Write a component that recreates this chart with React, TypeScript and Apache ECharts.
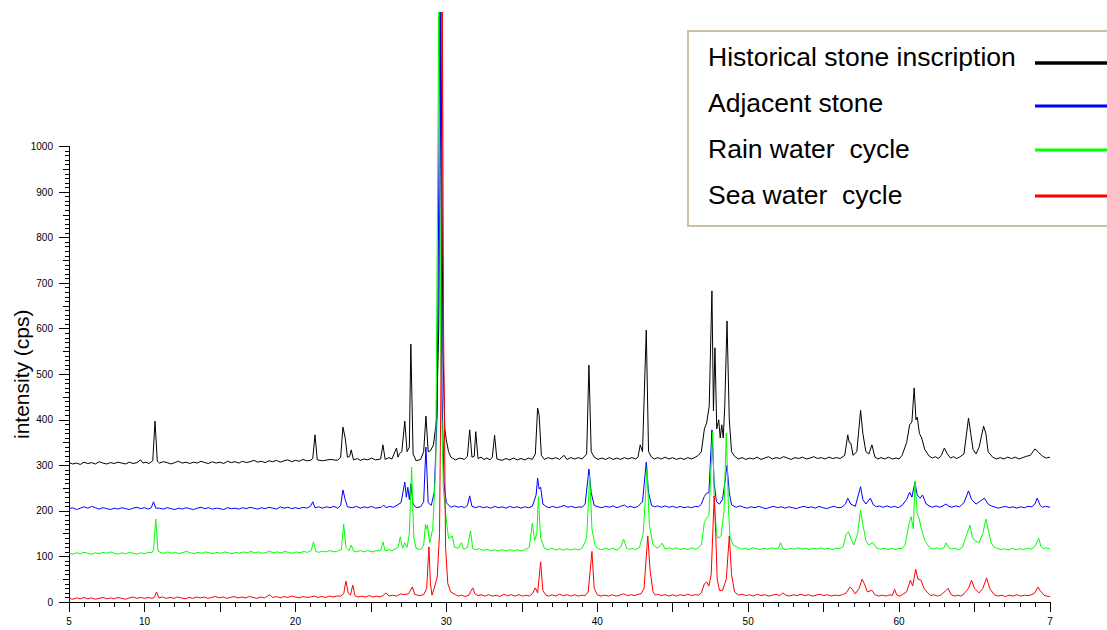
import React, { useEffect, useRef } from "react";
import * as echarts from "echarts";

// 2-theta (deg) vs intensity (cps) (traces are offset as drawn)
const historical: [number, number][] = [
  [5.0,306],[5.25,303],[5.5,305],[5.75,302],[6.0,307],[6.25,304],[6.5,306],[6.75,303],[7.0,308],[7.25,305],[7.5,303],[7.75,306],[8.0,304],[8.25,307],[8.5,305],[8.75,303],[9.0,307],[9.25,304],[9.5,306],[9.75,312],[9.9,305],[10.1,307],[10.3,304],[10.55,310],[10.7,397],[10.85,309],
  [11.0,305],[11.25,308],[11.5,306],[11.75,303],[12.0,306],[12.25,309],[12.5,305],[12.75,307],[13.0,304],[13.25,307],[13.5,305],[13.75,309],[14.0,306],[14.25,304],[14.5,308],[14.75,305],[15.0,307],[15.25,304],[15.5,309],[15.75,306],[16.0,308],[16.25,305],[16.5,309],[16.75,306],[17.0,308],[17.25,311],[17.5,307],[17.75,309],[18.0,306],[18.25,310],[18.5,308],[18.75,311],[19.0,307],[19.25,310],[19.5,312],[19.75,308],[20.0,311],[20.25,309],[20.5,313],[20.75,310],[21.0,311],
  [21.15,315],[21.3,367],[21.45,312],[21.8,310],[22.3,313],[22.8,311],[23.0,318],[23.15,384],[23.3,360],[23.45,318],[23.6,320],[23.7,334],[23.85,312],[24.1,315],[24.3,311],[24.55,314],[24.8,312],[25.05,316],[25.3,312],[25.65,314],[25.8,345],[25.95,313],[26.2,317],[26.4,314],[26.7,338],[26.8,318],[26.9,326],[27.05,330],[27.25,397],[27.4,330],[27.55,340],[27.65,566],[27.8,325],[28.0,310],[28.3,313],[28.5,330],[28.65,408],[28.8,330],[28.95,332],[29.15,345],[29.35,400],[29.5,600],[29.64,1295],[29.78,550],[29.9,380],[30.0,356],[30.15,330],[30.3,318],[30.6,312],[30.9,316],[31.2,313],[31.4,320],[31.55,378],[31.7,318],[31.85,320],[31.95,374],[32.1,315],[32.3,318],[32.5,313],[32.7,316],[32.9,312],[33.05,318],[33.2,366],[33.35,314],[33.7,311],[33.95,315],[34.2,312],[34.45,316],[34.7,312],[34.95,315],[35.2,312],[35.45,316],[35.7,313],[35.9,325],[36.05,426],[36.15,410],[36.3,322],[36.5,313],[36.75,317],[37.0,314],[37.25,317],[37.5,313],[37.8,322],[38.0,313],[38.25,317],[38.5,314],[38.75,317],[39.0,314],[39.3,325],[39.45,520],[39.6,330],[39.8,318],[40.05,313],[40.3,316],[40.55,313],[40.8,317],[41.05,313],[41.3,316],[41.55,313],[41.8,317],[42.05,314],[42.3,317],[42.55,314],[42.7,318],[42.85,345],[43.0,330],[43.25,597],[43.4,330],[43.6,318],[43.8,314],[44.0,317],[44.25,314],[44.5,318],[44.75,314],[45.0,317],[45.25,313],[45.5,316],[45.75,313],[46.0,317],[46.25,314],[46.5,318],[46.7,322],[46.9,330],[47.1,380],[47.25,393],[47.42,430],[47.6,683],[47.7,420],[47.8,558],[47.92,380],[48.05,400],[48.15,360],[48.25,389],[48.35,360],[48.45,430],[48.6,617],[48.75,400],[48.9,330],
  [49.1,320],[49.35,314],[49.6,317],[49.85,313],[50.1,316],[50.35,314],[50.6,318],[50.85,313],[51.1,316],[51.35,319],[51.6,314],[51.85,317],[52.1,315],[52.35,319],[52.6,316],[52.85,313],[53.1,317],[53.35,315],[53.6,318],[53.85,314],[54.1,316],[54.35,319],[54.6,315],[54.85,317],[55.1,314],[55.35,318],[55.6,315],[55.85,317],[56.1,315],[56.4,322],
  [56.6,367],[56.7,350],[56.8,349],[56.95,322],[57.2,330],[57.45,421],[57.6,370],[57.8,330],[58.0,325],[58.2,345],[58.4,318],[58.6,314],[58.8,317],[59.05,314],[59.3,318],[59.55,314],[59.8,316],[60.0,314],[60.2,322],[60.5,350],[60.7,389],[60.85,395],[61.0,470],[61.12,400],[61.2,406],[61.35,370],[61.5,360],[61.7,335],[62.0,320],[62.2,316],[62.4,319],[62.6,315],[62.8,322],[63.0,338],[63.2,325],[63.4,316],[63.6,319],[63.8,315],[64.0,318],[64.3,325],[64.6,404],[64.75,370],[64.9,335],[65.1,325],[65.3,340],[65.6,386],[65.75,370],[65.9,330],
  [66.2,318],[66.45,314],[66.7,317],[66.95,314],[67.2,318],[67.45,315],[67.7,318],[67.95,314],[68.2,317],[68.45,320],[68.7,322],[69.0,336],[69.2,330],[69.5,320],[69.75,316],[70.0,318]
];

const adjacent: [number, number][] = [
  [5.0,205],[5.25,207],[5.5,203],[5.75,206],[6.0,209],[6.25,206],[6.5,210],[6.75,207],[7.0,204],[7.25,207],[7.5,205],[7.75,203],[8.0,206],[8.25,204],[8.5,207],[8.75,205],[9.0,203],[9.25,206],[9.5,208],[9.75,205],[10.0,207],[10.25,204],[10.45,207],[10.6,220],[10.75,206],
  [11.0,206],[11.25,204],[11.5,207],[11.75,205],[12.0,203],[12.25,206],[12.5,204],[12.75,207],[13.0,205],[13.25,203],[13.5,206],[13.75,208],[14.0,205],[14.25,207],[14.5,204],[14.75,206],[15.0,205],[15.25,203],[15.5,207],[15.75,205],[16.0,206],[16.25,204],[16.5,207],[16.75,205],[17.0,208],[17.25,206],[17.5,204],[17.75,207],[18.0,205],[18.25,208],[18.5,206],[18.75,204],[19.0,209],[19.25,206],[19.5,208],[19.75,205],[20.0,207],[20.25,205],[20.5,208],[20.75,206],[21.0,210],
  [21.15,220],[21.3,207],[21.55,209],[21.8,206],[22.05,209],[22.3,207],[22.55,210],[22.8,206],[23.0,212],[23.15,246],[23.3,225],[23.45,209],[23.8,207],[24.05,210],[24.3,206],[24.55,209],[24.8,207],[25.05,210],[25.3,206],[25.7,208],[25.85,213],[26.0,207],[26.25,210],[26.5,208],[26.8,214],[27.0,218],[27.25,263],[27.35,230],[27.45,252],[27.55,225],[27.65,259],[27.8,215],[28.0,207],[28.3,209],[28.5,220],[28.65,340],[28.8,218],[29.0,212],[29.2,240],[29.4,420],[29.58,1295],[29.72,450],[29.85,260],[30.0,218],[30.3,208],[30.55,211],[30.8,208],[31.0,210],[31.2,207],[31.4,212],[31.55,233],[31.7,210],[31.95,207],[32.2,210],[32.45,207],[32.7,209],[32.95,206],[33.2,210],[33.45,207],[33.7,209],[33.95,206],[34.2,210],[34.45,207],[34.7,209],[34.95,206],[35.2,209],[35.45,207],[35.7,210],[35.95,235],[36.05,272],[36.15,248],[36.25,252],[36.4,215],[36.6,210],[36.8,207],[37.05,210],[37.3,207],[37.55,209],[37.8,212],[38.05,208],[38.3,210],[38.55,207],[38.8,209],[39.0,208],[39.2,215],[39.45,292],[39.6,240],[39.8,212],[40.05,209],[40.3,207],[40.55,210],[40.8,208],[41.05,211],[41.3,207],[41.55,210],[41.8,213],[42.0,208],[42.2,210],[42.45,207],[42.7,210],[43.0,220],[43.25,307],[43.4,240],[43.6,212],[43.8,209],[44.0,211],[44.25,208],[44.5,211],[44.75,208],[45.0,210],[45.25,207],[45.5,210],[45.75,207],[46.0,209],[46.25,207],[46.5,210],[46.7,209],[46.9,215],[47.1,232],[47.25,239],[47.4,240],[47.6,378],[47.75,260],[47.9,220],[48.1,215],[48.3,225],[48.45,260],[48.6,300],[48.75,240],[48.9,213],
  [49.2,208],[49.45,211],[49.7,208],[49.95,206],[50.2,209],[50.45,207],[50.7,210],[50.95,207],[51.2,205],[51.45,208],[51.7,210],[51.95,207],[52.2,209],[52.45,206],[52.7,209],[52.95,207],[53.2,205],[53.45,208],[53.7,210],[53.95,207],[54.2,209],[54.45,206],[54.7,210],[54.95,207],[55.2,205],[55.45,208],[55.7,210],[55.95,207],[56.2,208],
  [56.45,215],[56.6,228],[56.8,215],[57.1,210],[57.45,253],[57.6,225],[57.8,215],[58.1,228],[58.3,213],[58.5,209],[58.7,211],[58.95,208],[59.2,211],[59.45,208],[59.7,210],[59.95,207],[60.2,212],[60.5,225],[60.7,241],[60.85,230],[61.05,263],[61.2,235],[61.4,228],[61.55,235],[61.8,215],[62.0,211],[62.2,208],[62.45,211],[62.7,208],[62.9,211],[63.1,215],[63.3,210],[63.5,208],[63.75,211],[64.0,209],[64.3,218],[64.6,244],[64.8,225],[65.1,215],[65.4,222],[65.65,228],[65.9,215],[66.1,211],
  [66.3,209],[66.55,206],[66.8,208],[67.05,210],[67.3,207],[67.55,209],[67.8,206],[68.05,209],[68.3,207],[68.55,210],[68.8,209],[69.0,215],[69.15,228],[69.35,212],[69.5,208],[69.7,210],[70.0,208]
];

const rainCycle: [number, number][] = [
  [5.0,107],[5.25,105],[5.5,108],[5.75,106],[6.0,109],[6.25,107],[6.5,105],[6.75,108],[7.0,106],[7.25,109],[7.5,107],[7.75,110],[8.0,107],[8.25,105],[8.5,108],[8.75,106],[9.0,109],[9.25,107],[9.5,105],[9.75,108],[10.0,106],[10.25,109],[10.5,108],[10.6,115],[10.75,182],[10.9,112],
  [11.1,108],[11.3,107],[11.55,110],[11.8,107],[12.05,109],[12.3,106],[12.55,109],[12.8,111],[13.05,108],[13.3,106],[13.55,109],[13.8,107],[14.05,110],[14.3,108],[14.55,106],[14.8,109],[15.05,107],[15.3,110],[15.55,108],[15.8,106],[16.05,109],[16.3,107],[16.55,110],[16.8,108],[17.05,111],[17.3,108],[17.55,110],[17.8,107],[18.05,109],[18.3,111],[18.55,108],[18.8,110],[19.05,108],[19.3,111],[19.55,109],[19.8,107],[20.05,110],[20.3,108],[20.55,111],[20.8,109],
  [21.05,113],[21.2,132],[21.35,111],[21.55,109],[21.8,112],[22.05,110],[22.3,113],[22.55,110],[22.8,112],[23.05,115],[23.2,171],[23.35,120],[23.55,113],[23.7,125],[23.85,112],[24.05,110],[24.3,113],[24.55,110],[24.8,113],[25.05,110],[25.3,112],[25.65,113],[25.8,132],[25.95,112],[26.2,115],[26.4,112],[26.6,116],[26.8,120],[26.95,143],[27.1,118],[27.25,130],[27.4,120],[27.55,150],[27.7,296],[27.85,140],[28.0,118],[28.3,115],[28.5,125],[28.62,171],[28.68,160],[28.75,169],[28.9,130],[29.1,160],[29.3,300],[29.5,1295],[29.64,520],[29.8,250],[30.0,180],[30.15,140],[30.4,145],[30.55,120],[30.8,118],[31.0,130],[31.15,116],[31.4,120],[31.6,156],[31.75,118],[31.95,115],[32.2,117],[32.45,113],[32.7,116],[32.95,112],[33.2,115],[33.45,112],[33.7,115],[33.95,112],[34.2,115],[34.45,112],[34.7,115],[34.95,112],[35.2,115],[35.5,120],[35.7,173],[35.85,135],[36.0,150],[36.1,231],[36.25,140],[36.5,118],[36.75,115],[37.0,118],[37.25,114],[37.5,117],[37.75,114],[38.0,117],[38.25,114],[38.5,117],[38.75,114],[39.0,118],[39.3,140],[39.5,279],[39.65,160],[39.85,125],[40.05,117],[40.3,115],[40.55,118],[40.8,115],[41.05,118],[41.3,114],[41.55,120],[41.75,138],[41.95,118],[42.15,115],[42.3,118],[42.55,115],[42.8,120],[43.05,150],[43.3,294],[43.45,170],[43.7,125],[44.0,118],[44.3,129],[44.5,116],[44.75,119],[45.0,116],[45.25,119],[45.5,115],[45.75,118],[46.0,115],[46.25,119],[46.5,116],[46.7,119],[46.9,125],[47.1,175],[47.25,184],[47.4,190],[47.55,300],[47.65,373],[47.75,230],[47.9,150],[48.0,140],[48.2,145],[48.4,200],[48.55,371],[48.7,200],[48.8,143],[49.0,125],
  [49.3,120],[49.55,116],[49.8,118],[50.05,115],[50.3,119],[50.55,117],[50.8,115],[51.05,118],[51.3,116],[51.55,119],[51.8,117],[52.0,118],[52.15,130],[52.3,117],[52.55,115],[52.8,118],[53.05,116],[53.3,119],[53.55,116],[53.8,118],[54.05,115],[54.3,118],[54.55,116],[54.8,119],[55.05,116],[55.3,118],[55.55,115],[55.8,118],[56.05,117],[56.3,122],
  [56.5,150],[56.65,154],[56.8,140],[57.0,125],[57.25,150],[57.45,202],[57.6,170],[57.8,135],[58.0,125],[58.25,131],[58.5,119],[58.75,116],[59.0,118],[59.25,115],[59.5,118],[59.75,115],[60.0,118],[60.2,117],[60.4,125],[60.65,170],[60.8,187],[60.95,160],[61.05,266],[61.2,195],[61.35,180],[61.5,158],[61.7,135],[62.0,120],[62.25,116],[62.5,119],[62.75,116],[63.0,120],[63.1,130],[63.3,119],[63.5,116],[63.7,118],[63.95,115],[64.2,120],[64.5,150],[64.7,169],[64.85,143],[65.0,135],[65.3,130],[65.55,150],[65.75,182],[65.9,160],[66.1,130],
  [66.3,120],[66.5,118],[66.75,115],[67.0,117],[67.25,114],[67.5,118],[67.75,115],[68.0,117],[68.25,115],[68.5,118],[68.75,116],[69.0,122],[69.25,140],[69.4,122],[69.55,117],[69.7,119],[70.0,117]
];

const seaCycle: [number, number][] = [
  [5.0,8],[5.25,6],[5.5,9],[5.75,7],[6.0,10],[6.25,7],[6.5,9],[6.75,6],[7.0,8],[7.25,10],[7.5,7],[7.75,9],[8.0,7],[8.25,10],[8.5,8],[8.75,6],[9.0,9],[9.25,11],[9.5,8],[9.75,10],[10.0,8],[10.25,10],[10.5,8],[10.65,10],[10.8,22],[10.95,9],
  [11.2,11],[11.45,8],[11.7,10],[11.95,8],[12.2,11],[12.45,9],[12.7,7],[12.95,10],[13.2,8],[13.45,11],[13.7,9],[13.95,11],[14.2,8],[14.45,10],[14.7,12],[14.95,9],[15.2,11],[15.45,8],[15.7,10],[15.95,12],[16.2,9],[16.45,11],[16.7,9],[16.95,12],[17.2,10],[17.45,8],[17.7,11],[17.95,9],[18.1,12],[18.3,16],[18.5,10],[18.75,12],[19.0,9],[19.25,12],[19.5,10],[19.75,13],[20.0,11],[20.25,9],[20.5,12],[20.75,10],[21.0,11],
  [21.25,13],[21.5,10],[21.75,12],[22.0,10],[22.25,13],[22.5,11],[22.75,13],[23.0,13],[23.2,18],[23.35,46],[23.5,20],[23.65,15],[23.8,37],[23.95,14],[24.15,11],[24.4,13],[24.65,11],[24.9,14],[25.15,11],[25.4,13],[25.6,11],[25.8,14],[26.0,20],[26.2,13],[26.45,15],[26.7,13],[27.0,18],[27.2,16],[27.5,18],[27.75,33],[27.9,17],[28.2,14],[28.5,16],[28.7,30],[28.85,121],[28.95,40],[29.05,15],[29.2,30],[29.4,55],[29.55,150],[29.68,600],[29.74,1295],[29.82,600],[29.95,120],[30.1,40],[30.3,22],[30.6,16],[30.8,13],[31.0,15],[31.25,12],[31.5,15],[31.6,22],[31.75,31],[31.9,18],[32.1,14],[32.3,16],[32.55,13],[32.8,16],[33.05,13],[33.3,15],[33.55,12],[33.8,17],[34.05,14],[34.3,16],[34.55,13],[34.8,16],[35.05,13],[35.3,15],[35.5,13],[35.7,18],[35.9,31],[36.05,20],[36.25,88],[36.4,25],[36.6,15],[36.8,13],[37.0,16],[37.25,13],[37.5,17],[37.75,14],[38.0,16],[38.25,13],[38.5,16],[38.75,13],[39.0,15],[39.2,14],[39.4,22],[39.65,111],[39.8,30],[40.0,16],[40.25,13],[40.5,15],[40.75,13],[41.0,16],[41.25,13],[41.5,15],[41.75,18],[42.0,14],[42.25,16],[42.5,14],[42.7,17],[42.9,18],[43.1,30],[43.35,145],[43.5,70],[43.7,22],[43.85,15],[44.0,17],[44.25,14],[44.5,16],[44.75,13],[45.0,16],[45.25,13],[45.5,16],[45.75,14],[46.0,17],[46.25,14],[46.5,16],[46.7,15],[46.9,20],[47.1,40],[47.25,44],[47.4,35],[47.55,60],[47.75,233],[47.85,150],[47.95,50],[48.1,25],[48.3,25],[48.55,50],[48.75,145],[48.9,60],
  [49.1,22],[49.35,15],[49.6,17],[49.85,14],[50.1,16],[50.35,13],[50.6,17],[50.85,14],[51.1,16],[51.35,13],[51.6,15],[51.85,17],[52.1,14],[52.3,20],[52.5,15],[52.75,13],[53.0,16],[53.25,14],[53.5,17],[53.75,14],[54.0,16],[54.25,13],[54.5,15],[54.75,17],[55.0,14],[55.25,16],[55.5,13],[55.75,15],[56.0,14],[56.25,16],[56.5,20],
  [56.75,33],[56.9,28],[57.1,18],[57.35,30],[57.55,50],[57.7,40],[57.9,22],[58.2,26],[58.4,16],[58.65,13],[58.9,15],[59.15,13],[59.4,16],[59.55,14],[59.7,28],[59.85,15],[60.05,13],[60.2,16],[60.5,22],[60.75,48],[60.9,35],[61.1,72],[61.25,50],[61.45,48],[61.65,30],[61.9,20],[62.1,14],[62.3,16],[62.55,13],[62.8,16],[63.1,25],[63.25,30],[63.45,16],[63.7,13],[63.9,15],[64.1,13],[64.3,18],[64.6,30],[64.8,48],[65.0,30],[65.3,20],[65.55,30],[65.8,53],[66.0,30],
  [66.3,16],[66.55,13],[66.8,15],[67.05,12],[67.3,15],[67.55,13],[67.8,16],[68.05,13],[68.3,15],[68.55,14],[68.8,16],[69.0,20],[69.2,33],[69.35,25],[69.6,15],[69.8,13],[70.0,12]
];

const seriesNames = [
  "Historical stone inscription",
  "Adjacent stone",
  "Rain water  cycle",
  "Sea water  cycle",
];
const seriesColors = ["#000000", "#0000ff", "#00ff00", "#ff0000"];
const seriesData = [historical, adjacent, rainCycle, seaCycle];

const xLabelValues = [5, 10, 20, 30, 40, 50, 60, 70];
const xLabelTexts = ["5", "10", "20", "30", "40", "50", "60", "7"];
const yAxisName = "intensity (cps)";

const FONT = "'Liberation Sans', Arial, Helvetica, sans-serif";

export default function App() {
  const ref = useRef<HTMLDivElement>(null);

  useEffect(() => {
    if (!ref.current) return;
    const chart = echarts.init(ref.current, null, { renderer: "svg" });

    const legendTextY = [57, 103, 149, 195];
    const legendLineY = [63, 106, 150, 196];
    const legendGraphics: any[] = [
      {
        type: "rect",
        z: 100,
        shape: { x: 688, y: 31, width: 440, height: 195 },
        style: { fill: "#ffffff", stroke: "#cbc3a0", lineWidth: 2 },
      },
    ];
    seriesNames.forEach((name, i) => {
      legendGraphics.push({
        type: "text",
        z: 101,
        x: 708,
        y: legendTextY[i],
        style: {
          text: name,
          fontSize: 26.5,
          fontFamily: FONT,
          fill: "#000000",
          align: "left",
          verticalAlign: "middle",
        },
      });
      legendGraphics.push({
        type: "line",
        z: 101,
        shape: { x1: 1035, y1: legendLineY[i], x2: 1110, y2: legendLineY[i] },
        style: { stroke: seriesColors[i], lineWidth: i === 0 ? 3.5 : 3 },
      });
    });

    const option: any = {
      animation: false,
      backgroundColor: "#ffffff",
      textStyle: { fontFamily: FONT },
      grid: {
        left: 69,
        right: 57,
        top: 146.5,
        bottom: 28,
        containLabel: false,
        outerBoundsMode: "none",
      },
      xAxis: {
        type: "value",
        min: 5,
        max: 70,
        interval: 5,
        axisLine: { lineStyle: { color: "#000000", width: 1 } },
        axisTick: { show: true, length: 10, lineStyle: { color: "#000000" } },
        minorTick: { show: true, splitNumber: 5, length: 5, lineStyle: { color: "#000000" } },
        splitLine: { show: false },
        minorSplitLine: { show: false },
        axisLabel: {
          show: true,
          showMinLabel: true,
          showMaxLabel: true,
          hideOverlap: false,
          fontSize: 10,
          color: "#000000",
          fontFamily: FONT,
          margin: 14,
          formatter: (v: number) => {
            const idx = xLabelValues.indexOf(Math.round(v));
            return idx >= 0 ? xLabelTexts[idx] : "";
          },
        },
      },
      yAxis: [
        {
          type: "value",
          min: 0,
          max: 1000,
          interval: 100,
          position: "left",
          name: yAxisName,
          nameLocation: "middle",
          nameRotate: 90,
          nameGap: 37,
          nameMoveOverlap: false,
          nameTextStyle: { fontSize: 21, color: "#000000", fontFamily: FONT },
          axisLine: { show: true, lineStyle: { color: "#000000", width: 1 } },
          axisTick: { show: true, length: 10, lineStyle: { color: "#000000" } },
          minorTick: { show: true, splitNumber: 10, length: 4, lineStyle: { color: "#000000" } },
          splitLine: { show: false },
          minorSplitLine: { show: false },
          axisLabel: {
            fontSize: 10,
            color: "#000000",
            fontFamily: FONT,
            margin: 16,
            formatter: (v: number) => String(v),
          },
        },
        {
          type: "value",
          min: 0,
          max: 1000,
          interval: 50,
          position: "left",
          offset: 0,
          axisLine: { show: false },
          axisTick: { show: true, length: 6, lineStyle: { color: "#000000" } },
          axisLabel: { show: false },
          splitLine: { show: false },
        },
      ],
      series: seriesData.map((d, i) => ({
        name: seriesNames[i],
        type: "line",
        yAxisIndex: 0,
        data: d,
        showSymbol: false,
        symbol: "none",
        clip: false,
        lineStyle: { color: seriesColors[i], width: 1 },
        itemStyle: { color: seriesColors[i] },
        z: 2 + i,
      })),
      graphic: legendGraphics,
    };

    chart.setOption(option);
    return () => chart.dispose();
  }, []);

  return (
    <div
      ref={ref}
      style={{ position: "fixed", left: 0, top: 0, width: 1107, height: 630 }}
    />
  );
}
